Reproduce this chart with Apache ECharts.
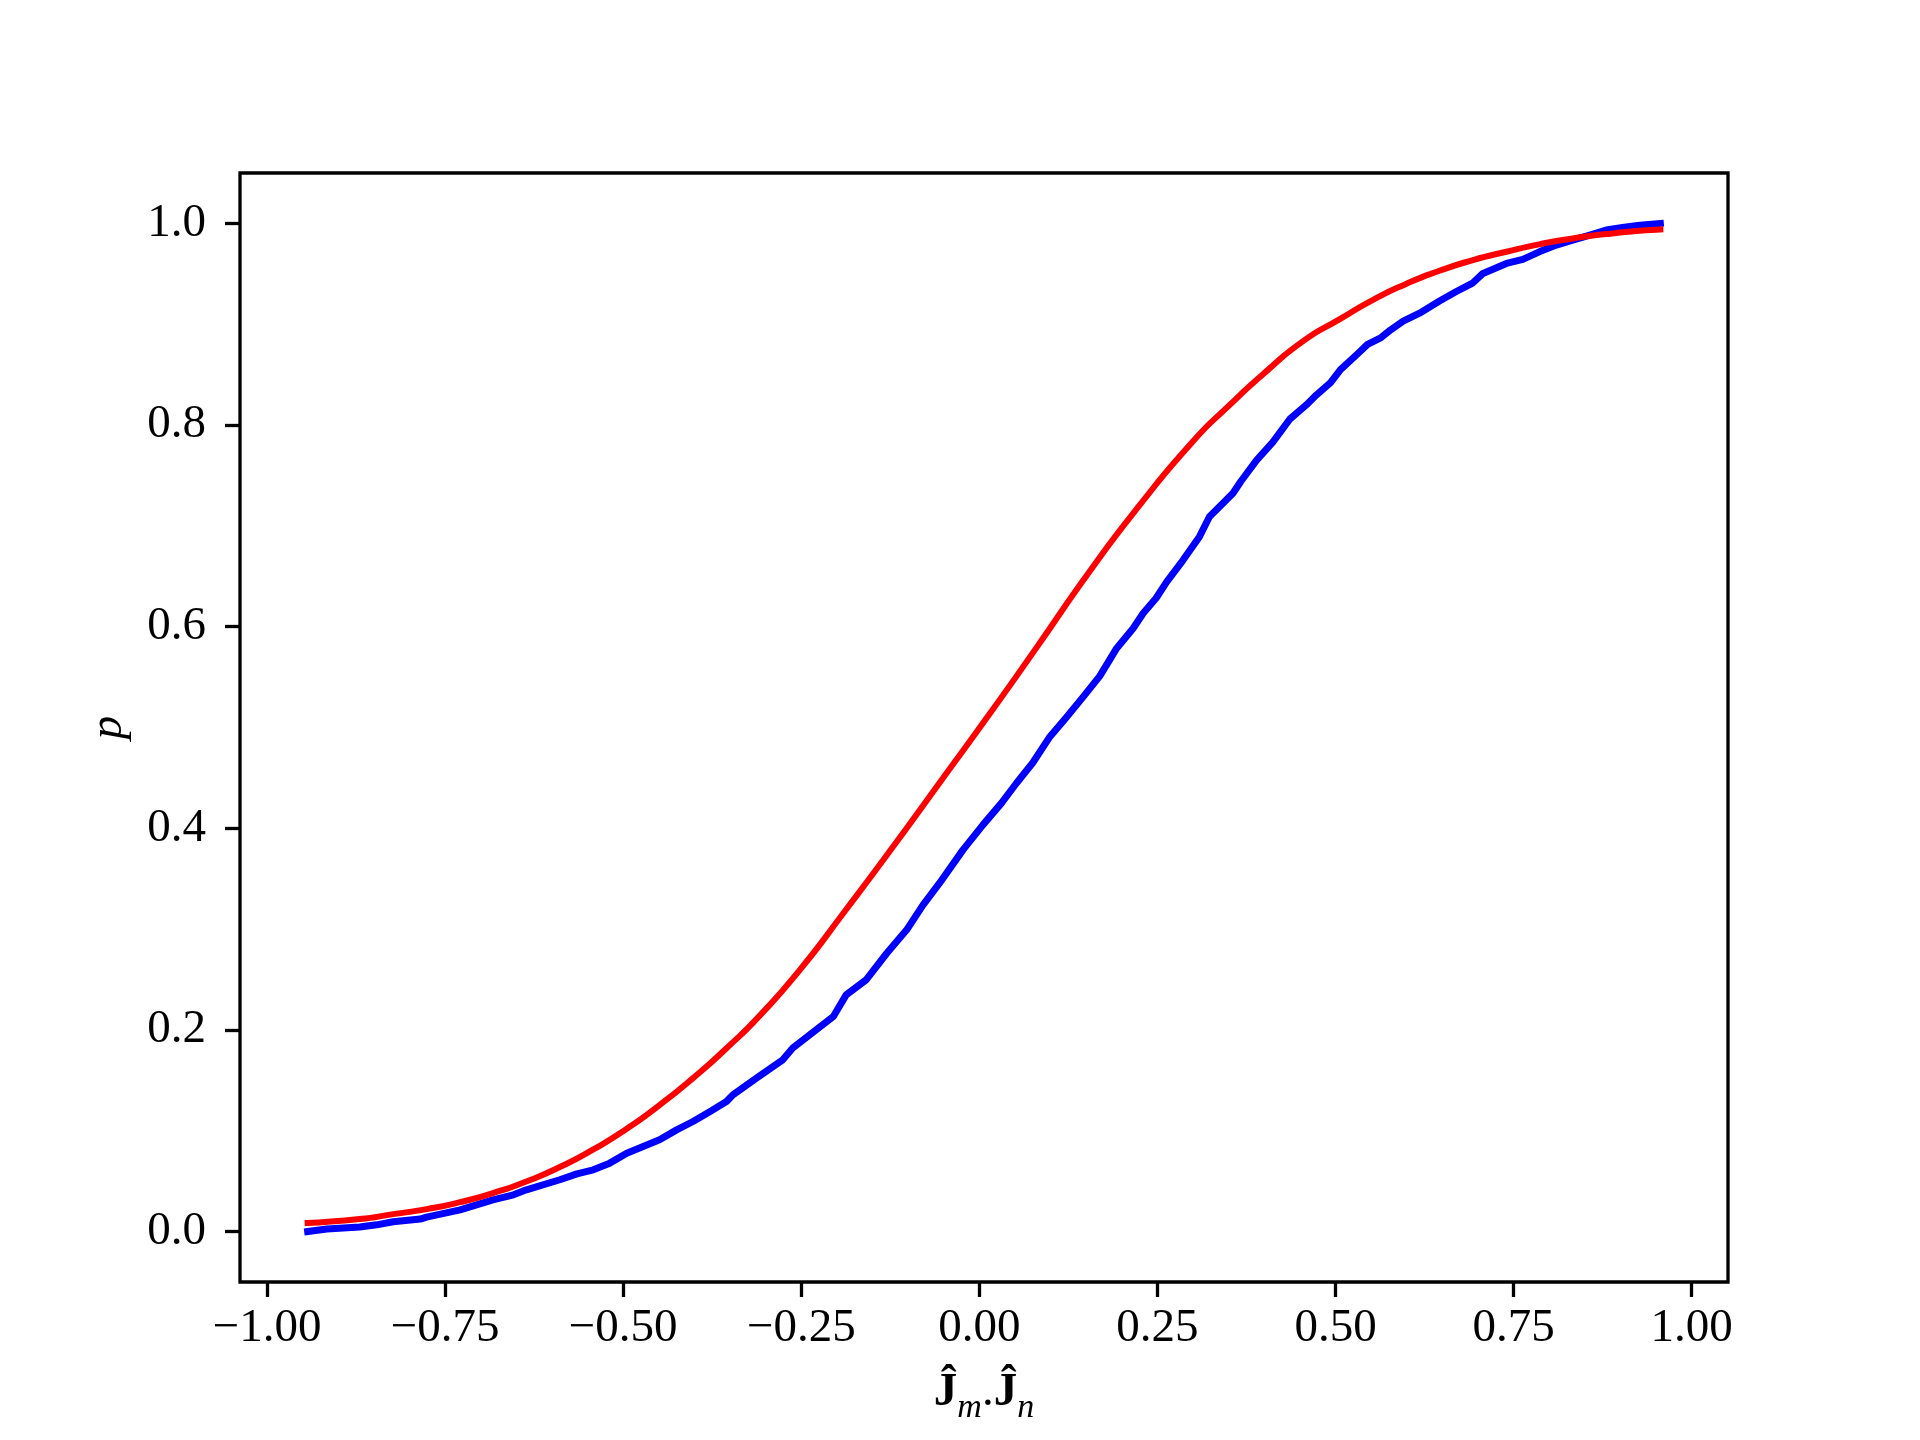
<!DOCTYPE html>
<html>
<head>
<meta charset="utf-8">
<script src="https://cdn.jsdelivr.net/npm/echarts@6/dist/echarts.min.js"></script>
<style>
html,body{margin:0;padding:0;background:#fff;}
#chart{width:1920px;height:1440px;}
</style>
</head>
<body>
<div id="chart"></div>
<script>
// Red (smooth model) curve
const redX = [-0.943, -0.870, -0.823, -0.776, -0.729, -0.683, -0.636, -0.589, -0.542, -0.495, -0.449, -0.402, -0.355, -0.308, -0.252, -0.191, -0.121, -0.053, 0.015, 0.080, 0.155, 0.225, 0.300, 0.350, 0.400, 0.455, 0.506, 0.552, 0.599, 0.646, 0.693, 0.740, 0.786, 0.833, 0.880, 0.927, 0.956];
const redY = [0.0085, 0.0124, 0.0173, 0.0223, 0.0292, 0.0382, 0.0497, 0.0640, 0.0815, 0.1020, 0.1255, 0.1522, 0.1819, 0.2145, 0.2596, 0.3158, 0.3819, 0.4480, 0.5141, 0.5790, 0.6550, 0.7205, 0.7840, 0.8190, 0.8515, 0.8835, 0.9050, 0.9240, 0.9400, 0.9530, 0.9636, 0.9719, 0.9792, 0.9851, 0.9894, 0.9927, 0.9940];

// Blue (empirical) curve
const blueX = [-0.943, -0.916, -0.870, -0.846, -0.823, -0.785, -0.776, -0.729, -0.683, -0.654, -0.636, -0.589, -0.565, -0.542, -0.519, -0.495, -0.472, -0.449, -0.425, -0.402, -0.378, -0.355, -0.346, -0.313, -0.276, -0.262, -0.229, -0.205, -0.187, -0.159, -0.130, -0.102, -0.079, -0.056, -0.023, 0.005, 0.031, 0.052, 0.075, 0.099, 0.122, 0.146, 0.169, 0.192, 0.216, 0.230, 0.248, 0.263, 0.286, 0.309, 0.323, 0.356, 0.367, 0.389, 0.412, 0.436, 0.459, 0.473, 0.493, 0.507, 0.530, 0.545, 0.564, 0.577, 0.595, 0.618, 0.646, 0.669, 0.693, 0.707, 0.740, 0.763, 0.786, 0.810, 0.833, 0.857, 0.880, 0.903, 0.927, 0.956];
const blueY = [0.0000, 0.0025, 0.0045, 0.0067, 0.0097, 0.0124, 0.0144, 0.0216, 0.0315, 0.0365, 0.0414, 0.0514, 0.0573, 0.0613, 0.0679, 0.0778, 0.0844, 0.0910, 0.1009, 0.1092, 0.1191, 0.1290, 0.1356, 0.1522, 0.1704, 0.1820, 0.2001, 0.2133, 0.2348, 0.2497, 0.2761, 0.2993, 0.3240, 0.3456, 0.3786, 0.4034, 0.4250, 0.4447, 0.4650, 0.4909, 0.5100, 0.5306, 0.5510, 0.5778, 0.5984, 0.6133, 0.6282, 0.6445, 0.6661, 0.6893, 0.7091, 0.7323, 0.7440, 0.7650, 0.7830, 0.8060, 0.8200, 0.8297, 0.8420, 0.8550, 0.8700, 0.8800, 0.8868, 0.8942, 0.9030, 0.9110, 0.9230, 0.9322, 0.9411, 0.9504, 0.9603, 0.9643, 0.9718, 0.9785, 0.9834, 0.9884, 0.9934, 0.9960, 0.9983, 1.0000];

// Tick values
const xTicks = [-1.00, -0.75, -0.50, -0.25, 0.00, 0.25, 0.50, 0.75, 1.00];
const yTicks = [0.0, 0.2, 0.4, 0.6, 0.8, 1.0];

const zip = (xs, ys) => xs.map((x, i) => [x, ys[i]]);
const FONT = '"Liberation Serif", "DejaVu Serif", serif';
const fmt = (v, d) => {
  const s = Math.abs(v).toFixed(d);
  return (v < -1e-9 ? '\u2212' : '') + s;
};

const chart = echarts.init(document.getElementById('chart'), null, {renderer: 'canvas'});
chart.setOption({
  backgroundColor: '#ffffff',
  animation: false,
  grid: {
    left: 240, top: 173, width: 1488, height: 1109,
    show: true, borderColor: '#000', borderWidth: 3.3, backgroundColor: 'transparent'
  },
  xAxis: {
    type: 'value',
    min: -1.038, max: 1.051,
    axisLine: {show: false, onZero: false},
    splitLine: {show: false},
    axisTick: {show: true, customValues: xTicks, length: 15, inside: false, lineStyle: {color: '#000', width: 3.3}},
    axisLabel: {
      customValues: xTicks, margin: 23, color: '#000', fontSize: 47, fontFamily: FONT,
      formatter: v => fmt(v, 2)
    },
    name: '{J|\u0134}{sub|m}{dot|.}{J|\u0134}{sub|n}',
    nameLocation: 'middle',
    nameGap: 78,
    nameTextStyle: {
      color: '#000', fontFamily: FONT, fontSize: 47,
      rich: {
        J: {fontFamily: FONT, fontWeight: 'bold', fontSize: 47, lineHeight: 47, color: '#000'},
        dot: {fontFamily: FONT, fontSize: 47, lineHeight: 47, color: '#000'},
        sub: {fontFamily: FONT, fontStyle: 'italic', fontSize: 34, lineHeight: 65, verticalAlign: 'bottom', color: '#000'}
      }
    }
  },
  yAxis: {
    type: 'value',
    min: -0.05, max: 1.05,
    axisLine: {show: false, onZero: false},
    splitLine: {show: false},
    axisTick: {show: true, customValues: yTicks, length: 15, inside: false, lineStyle: {color: '#000', width: 3.3}},
    axisLabel: {
      customValues: yTicks, margin: 34, color: '#000', fontSize: 47, fontFamily: FONT,
      formatter: v => fmt(v, 1)
    },
    name: 'p',
    nameLocation: 'middle',
    nameGap: 108,
    nameTextStyle: {color: '#000', fontFamily: FONT, fontSize: 47, fontStyle: 'italic'}
  },
  series: [
    {
      type: 'line', data: zip(blueX, blueY), showSymbol: false, symbol: 'none',
      lineStyle: {color: '#0000ff', width: 7, cap: 'square', join: 'round'}, itemStyle: {color: '#0000ff'},
      z: 2
    },
    {
      type: 'line', data: zip(redX, redY), showSymbol: false, symbol: 'none', smooth: 0.6,
      lineStyle: {color: '#ff0000', width: 6, cap: 'square'}, itemStyle: {color: '#ff0000'},
      z: 3
    }
  ]
});
</script>
</body>
</html>
